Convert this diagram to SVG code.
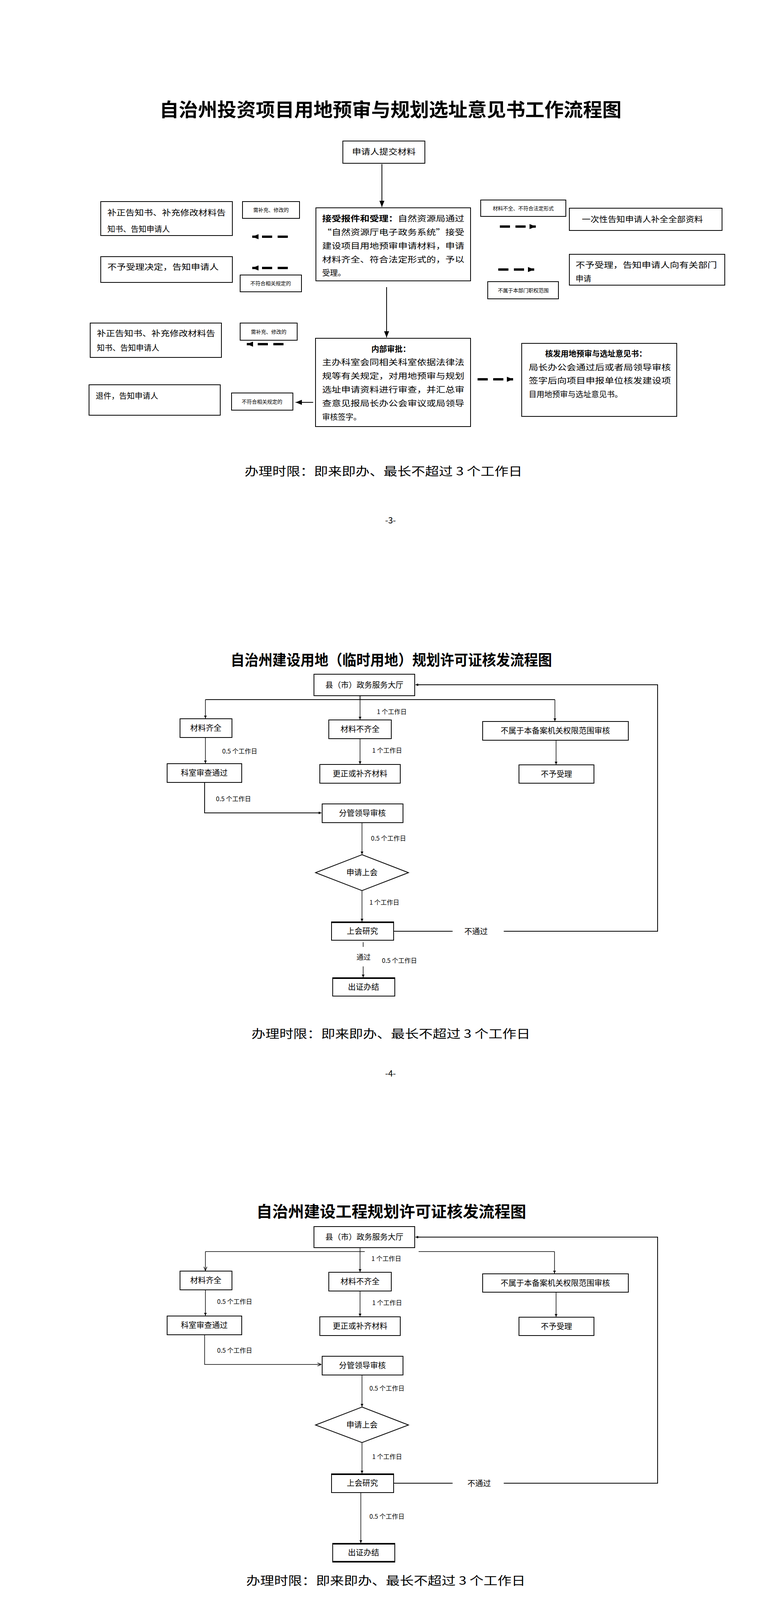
<svg xmlns="http://www.w3.org/2000/svg" width="2000" height="7069" viewBox="0 0 2000 7069">
<defs>
<style>
text{font-family:"Noto Sans CJK SC","Noto Sans",sans-serif;fill:#000}
.b{fill:#fff;stroke:#000;stroke-width:2}
.bt{fill:none;stroke:#000;stroke-width:4}
.g{fill:#fff;stroke:#555;stroke-width:2}
.ln{fill:none;stroke:#000;stroke-width:2}
.lt{fill:none;stroke:#000;stroke-width:1.5}
.dash{fill:none;stroke:#000;stroke-width:6;stroke-dasharray:26 14}
.ttl{font-weight:bold}
.c{text-anchor:middle}
.s20{font-size:20px}.s18{font-size:18px}.s16{font-size:16px}.s14{font-size:14px}.s13{font-size:13px}
.lim{font-size:30px;font-family:"Noto Sans CJK SC",serif}
</style>
<marker id="ah" viewBox="0 0 10 10" refX="10" refY="5" markerWidth="7" markerHeight="9" orient="auto" markerUnits="userSpaceOnUse"><path d="M0,0 L10,5 L0,10 Z" fill="#000"/></marker>
<marker id="ahb" viewBox="0 0 10 10" refX="10" refY="5" markerWidth="16" markerHeight="16" orient="auto" markerUnits="userSpaceOnUse"><path d="M0,1 L10,5 L0,9 Z" fill="#000"/></marker>
<marker id="oa" viewBox="0 0 10 10" refX="10" refY="5" markerWidth="10" markerHeight="10" orient="auto" markerUnits="userSpaceOnUse"><path d="M0,1 L10,5 L0,9" fill="none" stroke="#000" stroke-width="1.5"/></marker>
</defs>
<rect width="2000" height="7069" fill="#fff"/>

<!-- ================= PAGE 1 ================= -->
<text class="ttl" x="1000" y="298" font-size="48" text-anchor="middle" textLength="1183" lengthAdjust="spacingAndGlyphs">自治州投资项目用地预审与规划选址意见书工作流程图</text>
<g id="p1-connectors">
<line class="ln" x1="978" y1="420" x2="978" y2="530" stroke-width="3" marker-end="url(#ahb)"/>
<line class="dash" x1="737" y1="606" x2="646" y2="606" marker-end="url(#ahb)"/>
<line class="dash" x1="737" y1="686" x2="646" y2="686" marker-end="url(#ahb)"/>
<line class="dash" x1="1280" y1="580" x2="1372" y2="580" marker-end="url(#ahb)"/>
<line class="dash" x1="1276" y1="690" x2="1368" y2="690" marker-end="url(#ahb)"/>
<line class="ln" x1="990" y1="735" x2="990" y2="864" stroke-width="3" marker-end="url(#ahb)"/>
<line class="dash" x1="726" y1="881" x2="632" y2="881" marker-end="url(#ahb)"/>
<line class="ln" x1="802" y1="1030" x2="757" y2="1030" stroke-width="6" marker-end="url(#ahb)"/>
<line class="dash" x1="1223" y1="971" x2="1314" y2="971" marker-end="url(#ahb)"/>
</g>
<g id="p1-submit"><rect class="b" x="878" y="361" width="210" height="57"/><text class="s20 c" x="983" y="396" textLength="163" lengthAdjust="spacingAndGlyphs">申请人提交材料</text></g>
<g id="p1-accept"><rect class="b" x="809" y="532" width="396" height="187"/>
<text class="s20" x="825" y="567" textLength="364" lengthAdjust="spacingAndGlyphs"><tspan font-weight="bold">接受报件和受理：</tspan>自然资源局通过</text>
<text class="s20" x="825" y="602" textLength="364" lengthAdjust="spacingAndGlyphs">“自然资源厅电子政务系统”接受</text>
<text class="s20" x="825" y="637" textLength="364" lengthAdjust="spacingAndGlyphs">建设项目用地预审申请材料，申请</text>
<text class="s20" x="825" y="672" textLength="364" lengthAdjust="spacingAndGlyphs">材料齐全、符合法定形式的，予以</text>
<text class="s20" x="825" y="706">受理。</text></g>
<g id="p1-l1"><rect class="b" x="258" y="516" width="337" height="87"/><text class="s20" x="275" y="552" textLength="303" lengthAdjust="spacingAndGlyphs">补正告知书、补充修改材料告</text><text class="s20" x="275" y="594">知书、告知申请人</text></g>
<g id="p1-lab1"><rect class="b" x="621" y="516" width="146" height="43"/><text class="s13 c" x="694" y="542">需补充、修改的</text></g>
<g id="p1-l2"><rect class="b" x="258" y="657" width="337" height="66"/><text class="s20" x="275" y="691" textLength="285" lengthAdjust="spacingAndGlyphs">不予受理决定，告知申请人</text></g>
<g id="p1-lab2"><rect class="b" x="615" y="704" width="157" height="43"/><text class="s13 c" x="693" y="730">不符合相关规定的</text></g>
<g id="p1-lab3"><rect class="b" x="1231" y="512" width="218" height="42"/><text class="s13 c" x="1340" y="538">材料不全、不符合法定形式</text></g>
<g id="p1-r1"><rect class="b" x="1458" y="533" width="391" height="57"/><text class="s20" x="1490" y="569" textLength="310" lengthAdjust="spacingAndGlyphs">一次性告知申请人补全全部资料</text></g>
<g id="p1-r2"><rect class="b" x="1458" y="651" width="398" height="79"/><text class="s20" x="1474" y="686" textLength="362" lengthAdjust="spacingAndGlyphs">不予受理，告知申请人向有关部门</text><text class="s20" x="1474" y="721">申请</text></g>
<g id="p1-lab4"><rect class="b" x="1249" y="721" width="181" height="44"/><text class="s13 c" x="1340" y="748">不属于本部门职权范围</text></g>
<g id="p1-internal"><rect class="b" x="808" y="866" width="397" height="226"/>
<text class="s20 c" x="1001" y="901" font-weight="bold">内部审批：</text>
<text class="s20" x="825" y="935" textLength="364" lengthAdjust="spacingAndGlyphs">主办科室会同相关科室依据法律法</text>
<text class="s20" x="825" y="970" textLength="364" lengthAdjust="spacingAndGlyphs">规等有关规定，对用地预审与规划</text>
<text class="s20" x="825" y="1005" textLength="364" lengthAdjust="spacingAndGlyphs">选址申请资料进行审查，并汇总审</text>
<text class="s20" x="825" y="1040" textLength="364" lengthAdjust="spacingAndGlyphs">查意见报局长办公会审议或局领导</text>
<text class="s20" x="825" y="1075">审核签字。</text></g>
<g id="p1-l3"><rect class="b" x="231" y="827" width="336" height="88"/><text class="s20" x="248" y="861" textLength="303" lengthAdjust="spacingAndGlyphs">补正告知书、补充修改材料告</text><text class="s20" x="248" y="898">知书、告知申请人</text></g>
<g id="p1-lab5"><rect class="b" x="615" y="827" width="146" height="44"/><text class="s13 c" x="688" y="854">需补充、修改的</text></g>
<g id="p1-l4"><rect class="b" x="228" y="985" width="336" height="78"/><text class="s20" x="245" y="1021">退件，告知申请人</text></g>
<g id="p1-lab6"><rect class="b" x="593" y="1006" width="157" height="44"/><text class="s13 c" x="671" y="1033">不符合相关规定的</text></g>
<g id="p1-issue"><rect class="b" x="1336" y="879" width="397" height="187"/>
<text class="s20 c" x="1526" y="913" font-weight="bold">核发用地预审与选址意见书：</text>
<text class="s20" x="1354" y="948" textLength="364" lengthAdjust="spacingAndGlyphs">局长办公会通过后或者局领导审核</text>
<text class="s20" x="1354" y="982" textLength="364" lengthAdjust="spacingAndGlyphs">签字后向项目申报单位核发建设项</text>
<text class="s20" x="1354" y="1017">目用地预审与选址意见书。</text></g>
<text class="lim" x="982" y="1217" text-anchor="middle" textLength="711" lengthAdjust="spacingAndGlyphs">办理时限：即来即办、最长不超过 3 个工作日</text>
<text x="1000" y="1340" font-size="22" text-anchor="middle">-3-</text>

<!-- ================= PAGE 2 ================= -->
<text class="ttl" x="1002" y="1703" font-size="38" text-anchor="middle" textLength="823" lengthAdjust="spacingAndGlyphs">自治州建设用地（临时用地）规划许可证核发流程图</text>
<g id="p2-connectors">
<polyline class="ln" points="1008,2384 1159,2384"/>
<polyline class="ln" points="1290,2384 1684,2384 1684,1753 1064,1753" marker-end="url(#ah)"/>
<polyline class="ln" points="922,1781 922,1791"/>
<polyline class="ln" points="526,1791 1421,1791"/>
<line class="lt" x1="526" y1="1791" x2="526" y2="1839" marker-end="url(#ah)"/>
<line class="lt" x1="922" y1="1791" x2="922" y2="1842" marker-end="url(#ah)"/>
<line class="lt" x1="1421" y1="1791" x2="1421" y2="1846" marker-end="url(#ah)"/>
<line class="lt" x1="526" y1="1888" x2="526" y2="1954" marker-end="url(#ah)"/>
<line class="lt" x1="922" y1="1891" x2="922" y2="1956" marker-end="url(#ah)"/>
<line class="lt" x1="1424" y1="1895" x2="1424" y2="1957" marker-end="url(#ah)"/>
<polyline class="ln" points="524,2003 524,2081 823,2081" marker-end="url(#ah)"/>
<line class="lt" x1="927" y1="2106" x2="927" y2="2187" marker-end="url(#ah)"/>
<line class="lt" x1="927" y1="2280" x2="927" y2="2359" marker-end="url(#ah)"/>
<line class="lt" x1="930" y1="2412" x2="930" y2="2424"/>
<line class="lt" x1="930" y1="2474" x2="930" y2="2502" marker-end="url(#ah)"/>
<text class="s16" x="965" y="1828">1 个工作日</text>
<text class="s16" x="569" y="1929">0.5 个工作日</text>
<text class="s16" x="953" y="1927">1 个工作日</text>
<text class="s16" x="553" y="2051">0.5 个工作日</text>
<text class="s16" x="950" y="2152">0.5 个工作日</text>
<text class="s16" x="946" y="2316">1 个工作日</text>
<text class="s20" x="1189" y="2392">不通过</text>
<text class="s18 c" x="931" y="2457">通过</text>
<text class="s16" x="978" y="2465">0.5 个工作日</text>
</g>
<g id="p2-hall"><rect class="b" x="804" y="1726" width="258" height="55"/><text class="s20 c" x="933" y="1761">县（市）政务服务大厅</text></g>
<g id="p2-full"><rect class="b" x="461" y="1840" width="133" height="48"/><text class="s20 c" x="527" y="1871">材料齐全</text></g>
<g id="p2-notfull"><rect class="b" x="842" y="1843" width="160" height="48"/><text class="s20 c" x="922" y="1874">材料不齐全</text></g>
<g id="p2-outside"><rect class="b" x="1236" y="1847" width="373" height="48"/><text class="s20 c" x="1422" y="1878">不属于本备案机关权限范围审核</text></g>
<g id="p2-pass"><rect class="b" x="428" y="1955" width="191" height="48"/><text class="s20 c" x="523" y="1986">科室审查通过</text></g>
<g id="p2-fix"><rect class="b" x="819" y="1957" width="206" height="48"/><text class="s20 c" x="922" y="1988">更正或补齐材料</text></g>
<g id="p2-reject"><rect class="b" x="1329" y="1958" width="192" height="47"/><text class="s20 c" x="1425" y="1989">不予受理</text></g>
<g id="p2-leader"><rect class="b" x="825" y="2058" width="207" height="48"/><text class="s20 c" x="928" y="2089">分管领导审核</text></g>
<g id="p2-apply"><polygon class="b" points="927,2188 1046,2234 927,2280 808,2234"/><text class="s20 c" x="927" y="2241">申请上会</text></g>
<g id="p2-meet"><rect class="b" x="849" y="2360" width="159" height="47"/><line class="bt" x1="849" y1="2361" x2="1008" y2="2361"/><text class="s20 c" x="928" y="2391">上会研究</text></g>
<g id="p2-done"><rect class="b" x="852" y="2503" width="159" height="47"/><line class="bt" x1="852" y1="2504" x2="1011" y2="2504"/><text class="s20 c" x="931" y="2534">出证办结</text></g>
<text class="lim" x="1001" y="2657" text-anchor="middle" textLength="714" lengthAdjust="spacingAndGlyphs">办理时限：即来即办、最长不超过 3 个工作日</text>
<text x="1000" y="2756" font-size="22" text-anchor="middle">-4-</text>

<!-- ================= PAGE 3 ================= -->
<text class="ttl" x="1002" y="3116" font-size="40" text-anchor="middle" textLength="691" lengthAdjust="spacingAndGlyphs">自治州建设工程规划许可证核发流程图</text>
<g id="p3-connectors">
<polyline class="ln" points="1008,3797 1159,3797"/>
<polyline class="ln" points="1290,3797 1684,3797 1684,3167 1064,3167" marker-end="url(#ah)"/>
<polyline class="lt" points="526,3204 934,3204"/>
<polyline class="lt" points="1072,3204 1420,3204"/>
<line class="lt" x1="922" y1="3194" x2="922" y2="3256" marker-end="url(#ah)"/>
<line class="lt" x1="526" y1="3204" x2="526" y2="3253" marker-end="url(#oa)"/>
<line class="lt" x1="1420" y1="3204" x2="1420" y2="3260" marker-end="url(#ah)"/>
<line class="lt" x1="526" y1="3302" x2="526" y2="3368" marker-end="url(#ah)"/>
<line class="lt" x1="922" y1="3305" x2="922" y2="3370" marker-end="url(#ah)"/>
<line class="lt" x1="1424" y1="3308" x2="1424" y2="3371" marker-end="url(#ah)"/>
<polyline class="lt" points="524,3417 524,3493 823,3493" marker-end="url(#oa)"/>
<line class="lt" x1="927" y1="3520" x2="927" y2="3601" marker-end="url(#ah)"/>
<line class="lt" x1="927" y1="3693" x2="927" y2="3772" marker-end="url(#ah)"/>
<line class="lt" x1="924" y1="3821" x2="924" y2="3950" marker-end="url(#ah)"/>
<text class="s16" x="951" y="3228">1 个工作日</text>
<text class="s16" x="556" y="3338">0.5 个工作日</text>
<text class="s16" x="953" y="3341">1 个工作日</text>
<text class="s16" x="556" y="3463">0.5 个工作日</text>
<text class="s16" x="946" y="3560">0.5 个工作日</text>
<text class="s16" x="953" y="3735">1 个工作日</text>
<text class="s20" x="1197" y="3805">不通过</text>
<text class="s16" x="946" y="3888">0.5 个工作日</text>
</g>
<g id="p3-hall"><rect class="b" x="804" y="3140" width="258" height="54"/><text class="s20 c" x="933" y="3174">县（市）政务服务大厅</text></g>
<g id="p3-full"><rect class="b" x="461" y="3254" width="133" height="48"/><text class="s20 c" x="527" y="3285">材料齐全</text></g>
<g id="p3-notfull"><rect class="b" x="842" y="3257" width="160" height="48"/><text class="s20 c" x="922" y="3288">材料不齐全</text></g>
<g id="p3-outside"><rect class="b" x="1236" y="3261" width="373" height="47"/><text class="s20 c" x="1422" y="3292">不属于本备案机关权限范围审核</text></g>
<g id="p3-pass"><rect class="b" x="428" y="3369" width="191" height="48"/><text class="s20 c" x="523" y="3400">科室审查通过</text></g>
<g id="p3-fix"><rect class="b" x="819" y="3371" width="206" height="48"/><text class="s20 c" x="922" y="3402">更正或补齐材料</text></g>
<g id="p3-reject"><rect class="b" x="1329" y="3372" width="192" height="47"/><text class="s20 c" x="1425" y="3403">不予受理</text></g>
<g id="p3-leader"><rect class="b" x="825" y="3472" width="207" height="48"/><text class="s20 c" x="928" y="3503">分管领导审核</text></g>
<g id="p3-apply"><polygon class="b" points="927,3602 1046,3648 927,3693 808,3648"/><text class="s20 c" x="927" y="3655">申请上会</text></g>
<g id="p3-meet"><rect class="b" x="849" y="3773" width="159" height="48"/><line class="bt" x1="849" y1="3774" x2="1008" y2="3774"/><text class="s20 c" x="928" y="3804">上会研究</text></g>
<g id="p3-done"><rect class="b" x="852" y="3951" width="159" height="48"/><line class="bt" x1="852" y1="3952" x2="1011" y2="3952"/><line class="bt" x1="852" y1="3998" x2="1011" y2="3998"/><text class="s20 c" x="931" y="3982">出证办结</text></g>
<text class="lim" x="988" y="4057" text-anchor="middle" textLength="715" lengthAdjust="spacingAndGlyphs">办理时限：即来即办、最长不超过 3 个工作日</text>
<text x="1000" y="4169" font-size="22" text-anchor="middle">-5-</text>

<!-- ================= PAGE 4 ================= -->
<text class="ttl" x="1003" y="4409" font-size="36" text-anchor="middle" textLength="624" lengthAdjust="spacingAndGlyphs">自治州建设项目使用草原审核审批流程图</text>
<g id="p4-connectors">
<line class="ln" x1="625" y1="4480" x2="745" y2="4480" marker-end="url(#oa)"/>
<line class="ln" x1="1383" y1="4477" x2="1252" y2="4477" marker-end="url(#oa)"/>
<line class="lt" x1="993" y1="4521" x2="993" y2="4566" marker-end="url(#oa)"/>
<line class="ln" x1="1253" y1="4595" x2="1376" y2="4595" marker-end="url(#oa)"/>
<line class="lt" x1="1645" y1="4564" x2="1645" y2="4518" marker-end="url(#oa)"/>
<line class="lt" x1="993" y1="4622" x2="993" y2="4670" marker-end="url(#oa)"/>
<line class="ln" x1="762" y1="4715" x2="614" y2="4715" marker-end="url(#oa)"/>
<line class="lt" x1="995" y1="4747" x2="995" y2="4782" marker-end="url(#oa)"/>
<line class="ln" x1="1377" y1="4832" x2="1237" y2="4832" marker-end="url(#oa)"/>
<polyline class="lt" points="358,4929 358,4832 762,4832" marker-end="url(#oa)"/>
<line class="lt" x1="995" y1="4882" x2="995" y2="4927" marker-end="url(#oa)"/>
<line class="ln" x1="1240" y1="4964" x2="1382" y2="4964" marker-end="url(#oa)"/>
<line class="lt" x1="1653" y1="4929" x2="1653" y2="4884" marker-end="url(#oa)"/>
<line class="lt" x1="994" y1="5004" x2="994" y2="5051" marker-end="url(#oa)"/>
<line class="ln" x1="767" y1="5135" x2="614" y2="5135" marker-end="url(#oa)"/>
<line class="lt" x1="365" y1="5053" x2="365" y2="5006" marker-end="url(#oa)"/>
<line class="lt" x1="990" y1="5203" x2="990" y2="5242" marker-end="url(#oa)"/>
<line class="ln" x1="772" y1="5359" x2="622" y2="5359" marker-end="url(#oa)"/>
<line class="ln" x1="1257" y1="5357" x2="1380" y2="5357" marker-end="url(#oa)"/>
<line class="lt" x1="984" y1="5444" x2="984" y2="5477" marker-end="url(#oa)"/>
<line class="ln" x1="1251" y1="5503" x2="1380" y2="5503" marker-end="url(#oa)"/>
</g>
<g id="p4-a"><rect class="g" x="110" y="4439" width="502" height="77"/>
<text class="s16" x="121" y="4461" textLength="482" lengthAdjust="spacingAndGlyphs">矿产开采和工程建设需征收征用（永久使用）草原的用地单位或个</text>
<text class="s16" x="121" y="4486" textLength="482" lengthAdjust="spacingAndGlyphs">人按照属地管理的原则，向草原所在地的县（市）人民政府林草主</text>
<text class="s16" x="129" y="4510" textLength="466" lengthAdjust="spacingAndGlyphs">管部门提出使用草原申请，并提供相关材料(材料清单详见附件)</text></g>
<g id="p4-apply"><rect class="g" x="777" y="4439" width="441" height="77"/><text class="s16 c" x="997" y="4509">申请</text></g>
<g id="p4-r1"><rect class="g" x="1399" y="4439" width="493" height="77"/>
<text class="s16" x="1412" y="4484" textLength="467" lengthAdjust="spacingAndGlyphs">对申请材料不全或者不符合法定形式的，应当一次性书面告知用</text>
<text class="s16 c" x="1645" y="4509">地单位或个人限期补正，逾期未补正的，退还申请材料</text></g>
<g id="p4-accept"><rect class="g" x="777" y="4568" width="441" height="54"/><text class="s16 c" x="997" y="4601">县（市）林草局受理</text></g>
<g id="p4-r2"><rect class="g" x="1399" y="4568" width="493" height="54"/>
<text class="s16" x="1412" y="4589" textLength="467" lengthAdjust="spacingAndGlyphs">县（市）林草局收到使用草原申请后，经初审，对材料齐全、符</text>
<text class="s16 c" x="1645" y="4614">合条件的使用草原申请应当受理</text></g>
<g id="p4-check"><rect class="g" x="777" y="4672" width="441" height="75"/><text class="s16 c" x="997" y="4715">县（市）林草局现场查验</text></g>
<g id="p4-b"><rect class="g" x="110" y="4672" width="502" height="75"/>
<text class="s16" x="121" y="4693" textLength="482" lengthAdjust="spacingAndGlyphs">县（市）林草局对符合条件、材料齐全的使用草原申请指派 3 名以</text>
<text class="s16" x="121" y="4717" textLength="482" lengthAdjust="spacingAndGlyphs">上工作人员（其中相关专业中级以上职称人员不少于 2 名）对拟使</text>
<text class="s16 c" x="361" y="4741">用草原进行现场查验</text></g>
<g id="p4-report"><rect class="g" x="777" y="4783" width="441" height="99"/>
<text class="s16" x="791" y="4815" textLength="415" lengthAdjust="spacingAndGlyphs">按照规定需要报上级人民政府林草主管部门审核审批的建</text>
<text class="s16" x="791" y="4839" textLength="415" lengthAdjust="spacingAndGlyphs">设项目，县（市）林草局应当将初审意见和全部材料报克</text>
<text class="s16 c" x="997" y="4864">州政务服务大厅林草窗口逐级上报,同时网上申报。</text></g>
<g id="p4-r3"><rect class="g" x="1399" y="4783" width="493" height="99"/>
<text class="s16" x="1412" y="4828" textLength="467" lengthAdjust="spacingAndGlyphs">对申请材料不全或者不符合法定形式的，应当一次性书面告知用</text>
<text class="s16 c" x="1645" y="4853">地单位或个人限期补正，逾期未补正的，退还申请材料</text></g>
<g id="p4-illegal"><rect class="g" x="110" y="4929" width="502" height="75"/><text class="s16 c" x="361" y="4974">项目存在未批先占行为，退回县（市）林草局依法处理</text></g>
<g id="p4-window"><rect class="g" x="777" y="4929" width="441" height="75"/><text class="s16 c" x="997" y="4974">克州政务服务大厅林草窗口受理、审核</text></g>
<g id="p4-r4"><rect class="g" x="1399" y="4929" width="493" height="75"/>
<text class="s16" x="1410" y="4949" textLength="471" lengthAdjust="spacingAndGlyphs">克州政务服务大厅林草窗口收到建设项目使用草原呈报组件和呈</text>
<text class="s16" x="1410" y="4974" textLength="471" lengthAdjust="spacingAndGlyphs">报文件后，对材料齐全、符合条件的使用草原申请应当受理(纸质</text>
<text class="s16 c" x="1645" y="4998">材料审核和网上审核)</text></g>
<g id="p4-c"><rect class="g" x="110" y="5053" width="502" height="150"/>
<text class="s16" x="121" y="5073" textLength="482" lengthAdjust="spacingAndGlyphs">克州林草局对拟使用草原面积 10 公顷以上，并且符合条件、材料</text>
<text class="s16" x="121" y="5099" textLength="482" lengthAdjust="spacingAndGlyphs">齐全的使用草原申请指派 3 名以上工作人员（其中相关专业中级以</text>
<text class="s16" x="121" y="5124" textLength="482" lengthAdjust="spacingAndGlyphs">上职称人员不少于 2 名）对拟使用草原进行州级现场查验;70 公顷</text>
<text class="s16" x="121" y="5149" textLength="482" lengthAdjust="spacingAndGlyphs">及以上，并且符合条件、材料齐全的自治区指派 3 名以上工作人员</text>
<text class="s16" x="121" y="5174" textLength="482" lengthAdjust="spacingAndGlyphs">（其中相关专业中级以上职称人员不少于 2 名）对拟使用草原进行</text>
<text class="s16 c" x="361" y="5199">自治区级现场查验</text></g>
<g id="p4-check2"><rect class="g" x="777" y="5053" width="441" height="150"/><text class="s16 c" x="997" y="5136">现场查验</text></g>
<g id="p4-d"><rect class="g" x="110" y="5244" width="502" height="200"/>
<text class="s16" x="121" y="5264" textLength="482" lengthAdjust="spacingAndGlyphs">1、矿产开采和工程建设需征收征用（永久使用）草原面积 70 公顷及</text>
<text class="s16" x="121" y="5289" textLength="482" lengthAdjust="spacingAndGlyphs">以下的项目由自治区林业和草原主管部门审批(自治区委托地州实施);</text>
<text class="s16" x="121" y="5314" textLength="482" lengthAdjust="spacingAndGlyphs">2、矿产开采和工程建设需征收征用（永久使用）草原面积 70 公顷以</text>
<text class="s16" x="121" y="5339" textLength="482" lengthAdjust="spacingAndGlyphs">上的项目由国家林业和草原主管部门审批(国家委托自治区实施)。自治</text>
<text class="s16" x="121" y="5364" textLength="482" lengthAdjust="spacingAndGlyphs">州和自治区林业和草原主管部门收到建设项目使用草原呈报组件和呈</text>
<text class="s16" x="121" y="5389" textLength="482" lengthAdjust="spacingAndGlyphs">报文件后，对符合条件、材料齐全的应当做出准予使用草原的行政许</text>
<text class="s16" x="121" y="5414" textLength="482" lengthAdjust="spacingAndGlyphs">可决定，按照国家规定的标准出具草原植被恢复费缴款通知书，用地</text>
<text class="s16" x="121" y="5439">单位或个人提供缴款凭证后核发准予行政许可决定书。</text></g>
<g id="p4-review"><rect class="g" x="777" y="5244" width="441" height="200"/><text class="s16 c" x="997" y="5353">审核</text></g>
<g id="p4-r5"><rect class="g" x="1399" y="5244" width="493" height="200"/>
<text class="s16" x="1410" y="5289" textLength="471" lengthAdjust="spacingAndGlyphs">1、矿产开采和工程建设需征收征用（永久使用）草原的项目占用</text>
<text class="s16" x="1410" y="5313" textLength="471" lengthAdjust="spacingAndGlyphs">草原由克州政务服务大厅林草窗口审核审批;2、克州政务服务大厅</text>
<text class="s16" x="1410" y="5339" textLength="471" lengthAdjust="spacingAndGlyphs">林草窗口收到建设项目使用草原呈报组件和呈报文件后，对符合</text>
<text class="s16" x="1410" y="5364" textLength="471" lengthAdjust="spacingAndGlyphs">条件、材料齐全的应当做出准予使用草原的行政许可决定，按照</text>
<text class="s16" x="1410" y="5389" textLength="471" lengthAdjust="spacingAndGlyphs">国家规定的标准出具草原植被恢复费缴款通知书，用地单位或个</text>
<text class="s16" x="1410" y="5414">人提供缴款凭证后核发准予行政许可决定书。</text></g>
<g id="p4-end"><rect class="g" x="777" y="5479" width="441" height="41"/><text class="s16 c" x="997" y="5506">办结</text></g>
<g id="p4-notify"><rect class="g" x="1399" y="5479" width="493" height="41"/><text class="s16 c" x="1645" y="5506">通知用地单位或个人领取批准文件</text></g>
<text x="691" y="5547" font-size="24" textLength="454" lengthAdjust="spacingAndGlyphs">办理时限：即来即办，重大项目会商办理</text>
<text x="1001" y="5584" font-size="24" text-anchor="middle">-6-</text>

<!-- ================= PAGE 5 ================= -->
<text class="ttl" x="1003" y="5848" font-size="36" text-anchor="middle" textLength="624" lengthAdjust="spacingAndGlyphs">自治州建设项目使用林地审核审批流程图</text>
<g id="p5-connectors">
<line class="ln" x1="605" y1="5933" x2="739" y2="5933" marker-end="url(#oa)"/>
<line class="ln" x1="1355" y1="5933" x2="1220" y2="5933" marker-end="url(#oa)"/>
<line class="lt" x1="977" y1="5980" x2="977" y2="6019" marker-end="url(#oa)"/>
<line class="ln" x1="1225" y1="6052" x2="1353" y2="6052" marker-end="url(#oa)"/>
<line class="ln" x1="1655" y1="6017" x2="1655" y2="5981" marker-end="url(#oa)"/>
<line class="lt" x1="976" y1="6079" x2="976" y2="6116" marker-end="url(#oa)"/>
<line class="ln" x1="746" y1="6148" x2="600" y2="6148" marker-end="url(#oa)"/>
<line class="lt" x1="975" y1="6174" x2="975" y2="6211" marker-end="url(#oa)"/>
<line class="ln" x1="1353" y1="6282" x2="1212" y2="6282" marker-end="url(#oa)"/>
<polyline class="lt" points="336,6362 336,6276 727,6276" marker-end="url(#oa)"/>
<line class="lt" x1="971" y1="6348" x2="971" y2="6381" marker-end="url(#oa)"/>
<line class="ln" x1="1655" y1="6381" x2="1655" y2="6350" marker-end="url(#oa)"/>
<line class="ln" x1="1215" y1="6423" x2="1350" y2="6423" marker-end="url(#oa)"/>
<line class="lt" x1="970" y1="6445" x2="970" y2="6484" marker-end="url(#oa)"/>
<line class="lt" x1="342" y1="6486" x2="342" y2="6447" marker-end="url(#oa)"/>
<line class="ln" x1="730" y1="6554" x2="598" y2="6554" marker-end="url(#oa)"/>
<line class="lt" x1="970" y1="6600" x2="970" y2="6629" marker-end="url(#oa)"/>
<line class="ln" x1="737" y1="6746" x2="602" y2="6746" marker-end="url(#oa)"/>
<line class="ln" x1="1228" y1="6753" x2="1343" y2="6753" marker-end="url(#oa)"/>
<line class="lt" x1="974" y1="6836" x2="974" y2="6866" marker-end="url(#oa)"/>
<line class="ln" x1="1232" y1="6891" x2="1346" y2="6891" marker-end="url(#oa)"/>
</g>
<g id="p5-a"><rect class="g" x="85" y="5882" width="506" height="95"/>
<text class="s16" x="97" y="5912" textLength="484" lengthAdjust="spacingAndGlyphs">永久占用林地和临时占用林地的用地单位或个人按照属地管理的</text>
<text class="s16" x="97" y="5937" textLength="484" lengthAdjust="spacingAndGlyphs">原则，向林地所在地的县（市）人民政府林草主管部门提出使用林</text>
<text class="s16" x="97" y="5962">地申请，并提供相关材料(材料清单详见附件)</text></g>
<g id="p5-apply"><rect class="g" x="757" y="5882" width="442" height="95"/><text class="s16 c" x="978" y="5937">申请</text></g>
<g id="p5-r1"><rect class="g" x="1381" y="5882" width="533" height="95"/>
<text class="s16" x="1391" y="5925" textLength="514" lengthAdjust="spacingAndGlyphs">对申请材料不全或者不符合法定形式的，应当一次性书面告知用地单位</text>
<text class="s16" x="1391" y="5950">或个人限期补正，逾期未补正的，退还申请材料</text></g>
<g id="p5-accept"><rect class="g" x="757" y="6021" width="442" height="58"/><text class="s16 c" x="978" y="6056">县（市）林草局受理</text></g>
<g id="p5-r2"><rect class="g" x="1381" y="6021" width="533" height="58"/>
<text class="s16" x="1391" y="6046" textLength="514" lengthAdjust="spacingAndGlyphs">县（市）林草局收到使用林地申请后，经初审，对材料齐全、符合条件</text>
<text class="s16 c" x="1647" y="6071">的使用林地申请应当受理</text></g>
<g id="p5-check"><rect class="g" x="757" y="6118" width="442" height="56"/><text class="s16 c" x="978" y="6154">县（市）林草局现场查验</text></g>
<g id="p5-b"><rect class="g" x="85" y="6118" width="506" height="56"/>
<text class="s16" x="97" y="6142" textLength="484" lengthAdjust="spacingAndGlyphs">县（市）林草局对符合条件、材料齐全的使用林地申请指派 2 名以</text>
<text class="s16 c" x="338" y="6165">上专业技术人员对拟使用林地进行现场查验</text></g>
<g id="p5-report"><rect class="g" x="757" y="6213" width="442" height="135"/>
<text class="s16" x="770" y="6262" textLength="418" lengthAdjust="spacingAndGlyphs">按照规定需要报上级人民政府林草主管部门审核审批的建</text>
<text class="s16" x="770" y="6288" textLength="418" lengthAdjust="spacingAndGlyphs">设项目，县（市）林草局应当将初审意见和全部材料报克</text>
<text class="s16 c" x="978" y="6313">州政务服务大厅林草窗口逐级上报,同时网上申报。</text></g>
<g id="p5-r3"><rect class="g" x="1381" y="6213" width="533" height="135"/>
<text class="s16" x="1391" y="6288" textLength="514" lengthAdjust="spacingAndGlyphs">对申请材料不全或者不符合法定形式的，应当一次性书面告知用地单位</text>
<text class="s16 c" x="1647" y="6312">或个人限期补正，逾期未补正的，退还申请材料</text></g>
<g id="p5-illegal"><rect class="g" x="85" y="6383" width="506" height="62"/><text class="s16 c" x="338" y="6421">项目存在未批先占行为，退回县（市）林草局依法处理</text></g>
<g id="p5-window"><rect class="g" x="757" y="6383" width="442" height="62"/><text class="s16 c" x="978" y="6421">克州政务服务大厅林草窗口受理、审核</text></g>
<g id="p5-r4"><rect class="g" x="1381" y="6383" width="533" height="62"/>
<text class="s16" x="1391" y="6408" textLength="514" lengthAdjust="spacingAndGlyphs">克州政务服务大厅林草窗口收到建设项目使用草原呈报组件和呈报文件后，对材料齐全、</text>
<text class="s16 c" x="1647" y="6434">符合条件的使用林地申请应当受理（纸质材料审核和网上审核）</text></g>
<g id="p5-c"><rect class="g" x="85" y="6486" width="506" height="114"/>
<text class="s16" x="97" y="6513" textLength="484" lengthAdjust="spacingAndGlyphs">克州林草局对拟使用林地面积 3 公顷以上 10 公顷以下，并且符合条件、</text>
<text class="s16" x="97" y="6537" textLength="484" lengthAdjust="spacingAndGlyphs">材料齐全的使用林地申请指派 2 名以上专业技术人员对拟使用林地进</text>
<text class="s16" x="97" y="6562" textLength="484" lengthAdjust="spacingAndGlyphs">行州级现场查验：10 公顷及以上，并且符合条件、材料齐全的自治区指</text>
<text class="s16" x="97" y="6587">派 2 名以上专业技术人员对拟使用林地进行自治区级现场查验</text></g>
<g id="p5-check2"><rect class="g" x="757" y="6486" width="442" height="114"/><text class="s16 c" x="978" y="6550">现场查验</text></g>
<g id="p5-d"><rect class="g" x="85" y="6630" width="506" height="206"/>
<text class="s16" x="97" y="6653" textLength="484" lengthAdjust="spacingAndGlyphs">1、建设项目永久使用林地面积 10 公顷以下的和克州奥依塔克国有林</text>
<text class="s16" x="97" y="6677" textLength="484" lengthAdjust="spacingAndGlyphs">管理局在所经营的林地范围内修筑直接为林业生产服务的工程设施永</text>
<text class="s16" x="97" y="6702" textLength="484" lengthAdjust="spacingAndGlyphs">久和临时占用林地的由自治区林业和草原局审核审批(自治区委托地</text>
<text class="s16" x="97" y="6727" textLength="484" lengthAdjust="spacingAndGlyphs">州实施)，永久使用林地面积 10 公顷以上的由国家林草局审核审批；2、</text>
<text class="s16" x="97" y="6752" textLength="484" lengthAdjust="spacingAndGlyphs">自治区和国家林业和草原局收到建设项目使用林地呈报组件和呈报文</text>
<text class="s16" x="97" y="6776" textLength="484" lengthAdjust="spacingAndGlyphs">件后，对符合条件、材料齐全的应当做出准予使用林地的行政许可决</text>
<text class="s16" x="97" y="6802" textLength="484" lengthAdjust="spacingAndGlyphs">定，按照国家规定的标准预收森林植被恢复费后，向用地单位或个人</text>
<text class="s16" x="97" y="6826">核发准予行政许可决定书。</text></g>
<g id="p5-approve"><rect class="g" x="757" y="6630" width="442" height="206"/><text class="s16 c" x="978" y="6740">审批</text></g>
<g id="p5-r5"><rect class="g" x="1381" y="6630" width="533" height="206"/>
<text class="s16" x="1391" y="6664" textLength="504" lengthAdjust="spacingAndGlyphs">1、建设项目临时使用林地和国有林场在所经营的林地范围内修筑直接为</text>
<text class="s16" x="1391" y="6690" textLength="497" lengthAdjust="spacingAndGlyphs">林业生产服务的工程设施占用林地由克州政务服务大厅林草窗口审核审</text>
<text class="s16" x="1391" y="6715">批；</text>
<text class="s16" x="1391" y="6741" textLength="504" lengthAdjust="spacingAndGlyphs">2、克州政务服务大厅林草窗口收到建设项目使用林地呈报组件和呈报文</text>
<text class="s16" x="1391" y="6765" textLength="504" lengthAdjust="spacingAndGlyphs">件后，对符合条件、材料齐全的应当做出准予使用林地的行政许可决定，</text>
<text class="s16" x="1391" y="6790" textLength="510" lengthAdjust="spacingAndGlyphs">按照国家规定的标准预收森林植被恢复费后，向用地单位或个人核发准予</text>
<text class="s16" x="1391" y="6814">行政许可决定书。</text></g>
<g id="p5-end"><rect class="g" x="757" y="6867" width="442" height="31"/><text class="s16 c" x="978" y="6888">办结</text></g>
<g id="p5-notify"><rect class="g" x="1381" y="6867" width="533" height="31"/><text class="s16 c" x="1647" y="6888">通知用地单位或个人领取批准文件</text></g>
<text x="703" y="6941" font-size="24" textLength="456" lengthAdjust="spacingAndGlyphs">办理时限：即来即办，重大项目会商办理</text>
<text x="1001" y="6997" font-size="24" text-anchor="middle">-7-</text>
</svg>
